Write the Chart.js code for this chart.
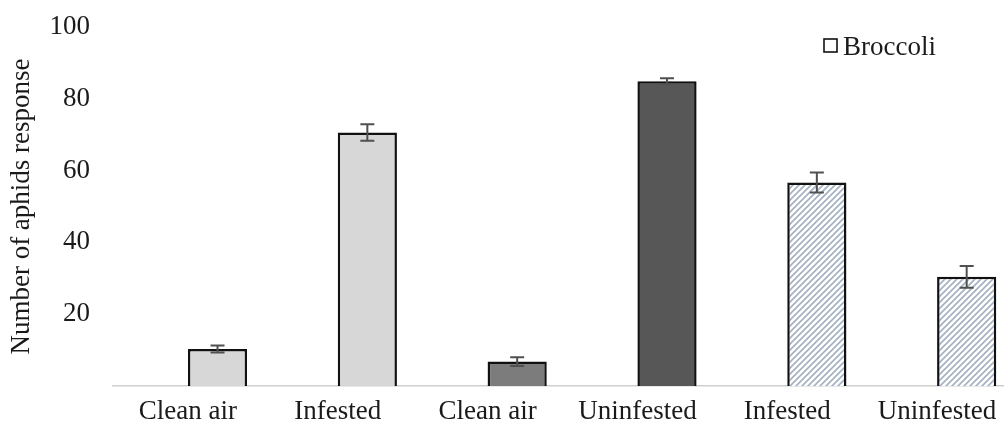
<!DOCTYPE html>
<html>
<head>
<meta charset="utf-8">
<script src="https://cdn.jsdelivr.net/npm/chart.js@4.4.1/dist/chart.umd.min.js"></script>
<style>
  html, body { margin: 0; padding: 0; background: #fff; overflow: hidden; }
  /* the plot runs slightly past the right edge in the reference */
  #wrap { width: 1004px; height: 432px; overflow: hidden; }
</style>
</head>
<body>
<div id="wrap"><canvas id="aphidChart" width="1012" height="432"></canvas></div>
<script>
// data
const categories = ["Clean air", "Infested", "Clean air", "Uninfested", "Infested", "Uninfested"];
const broccoliValues = [10.3, 70.6, 6.8, 84.9, 56.7, 30.4];
const broccoliErrors = [1, 2.3, 1.2, 0.8, 2.8, 3];
const yTicks = [20, 40, 60, 80, 100];

const FONT = "'Liberation Serif', 'Times New Roman', serif";

// diagonal hatch for the last two bars
function makeHatch() {
    const c = document.createElement("canvas");
    c.width = 6; c.height = 6;
    const g = c.getContext("2d");
    g.fillStyle = "#ffffff";
    g.fillRect(0, 0, 6, 6);
    g.strokeStyle = "#a3afc2";
    g.lineWidth = 1.6;
    g.beginPath();
    g.moveTo(0, 6); g.lineTo(6, 0);
    g.moveTo(-3, 3); g.lineTo(3, -3);
    g.moveTo(3, 9); g.lineTo(9, 3);
    g.stroke();
    return g.createPattern(c, "repeat");
}

const ctx = document.getElementById("aphidChart").getContext("2d");
const hatch = makeHatch();
const barColors = ["#d7d7d7", "#d7d7d7", "#7c7c7c", "#575757", hatch, hatch];

// error bars drawn on top of the broccoli bars
const errorBars = {
    id: "errorBars",
    afterDatasetsDraw(chart) {
        const meta = chart.getDatasetMeta(1);
        const y = chart.scales.y;
        const c = chart.ctx;
        c.save();
        c.strokeStyle = "#505050";
        c.lineWidth = 2;
        meta.data.forEach((bar, i) => {
            const top = y.getPixelForValue(broccoliValues[i] + broccoliErrors[i]);
            const bot = y.getPixelForValue(broccoliValues[i] - broccoliErrors[i]);
            c.beginPath();
            c.moveTo(bar.x, top); c.lineTo(bar.x, bot);
            c.moveTo(bar.x - 7, top); c.lineTo(bar.x + 7, top);
            c.moveTo(bar.x - 7, bot); c.lineTo(bar.x + 7, bot);
            c.stroke();
        });
        c.restore();
    }
};

// simple legend box in the top right
const legendBox = {
    id: "legendBox",
    afterDraw(chart) {
        const c = chart.ctx;
        c.save();
        c.fillStyle = "#ffffff";
        c.strokeStyle = "#111";
        c.lineWidth = 1.6;
        c.fillRect(824, 39, 13, 13);
        c.strokeRect(824, 39, 13, 13);
        c.fillStyle = "#1a1a1a";
        c.font = "27px " + FONT;
        c.textBaseline = "alphabetic";
        c.fillText("Broccoli", 843, 55);
        c.restore();
    }
};

new Chart(ctx, {
    type: "bar",
    data: {
        labels: categories,
        datasets: [
            { label: "", data: categories.map(() => null) },
            {
                label: "Broccoli",
                data: broccoliValues,
                backgroundColor: barColors,
                borderColor: "#111111",
                borderWidth: 2.5
            }
        ]
    },
    options: {
        responsive: false,
        animation: false,
        layout: { padding: { top: 27, right: 0, left: 0, bottom: 0 } },
        datasets: { bar: { categoryPercentage: 0.79, barPercentage: 1 } },
        plugins: {
            legend: { display: false },
            tooltip: { enabled: false }
        },
        scales: {
            x: {
                grid: { display: false, drawTicks: false },
                border: { display: true, color: "#cfcfcf", width: 1.5 },
                ticks: { color: "#1a1a1a", font: { family: FONT, size: 27 }, padding: 10, maxRotation: 0 },
                afterFit(scale) { scale.height = 46; }
            },
            y: {
                min: 0,
                max: 100,
                afterBuildTicks(scale) { scale.ticks = yTicks.map(v => ({ value: v })); },
                grid: { display: false, drawTicks: false },
                border: { display: false },
                ticks: { color: "#1a1a1a", font: { family: FONT, size: 27 }, padding: 23 },
                title: {
                    display: true,
                    text: "Number of aphids response",
                    color: "#1a1a1a",
                    font: { family: FONT, size: 27 },
                    padding: { top: 6, bottom: 0 }
                },
                afterFit(scale) {
                    scale.width = 113;
                    scale.paddingTop = 0;
                    scale.paddingBottom = 0;
                }
            }
        }
    },
    plugins: [errorBars, legendBox]
});
</script>
</body>
</html>
